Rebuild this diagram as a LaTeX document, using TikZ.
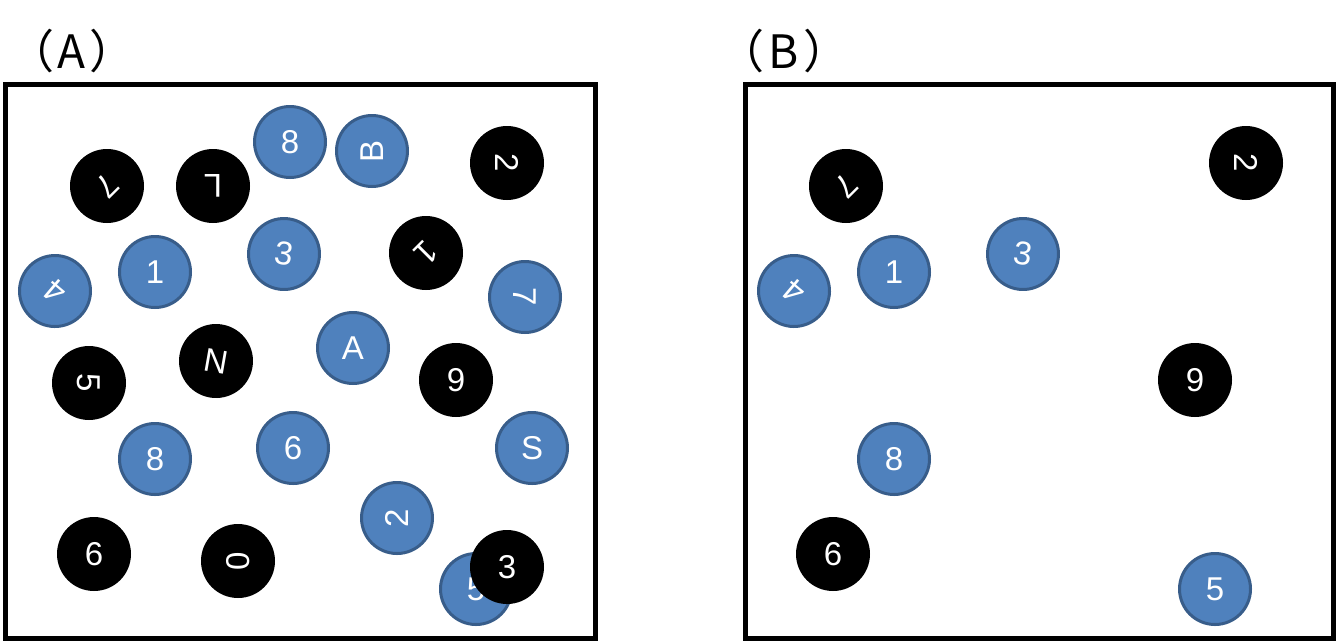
\documentclass[tikz,border=0pt]{standalone}
\usepackage{fontspec}
\setmainfont{Liberation Sans}
\newfontfamily\cjk{Noto Sans CJK JP}
\definecolor{ballblue}{HTML}{4F81BD}
\definecolor{balledge}{HTML}{385D8A}
\tikzset{
  ballbase/.style={circle, inner sep=0pt, text=white, font=\fontsize{33}{33}\selectfont},
  blueball/.style={ballbase, fill=ballblue, draw=balledge, line width=3pt, minimum size=71pt},
  blackball/.style={ballbase, fill=black, minimum size=74pt},
  framebox/.style={draw=black, line width=5pt},
  paneltitle/.style={anchor=base, font=\cjk\fontsize{46}{46}\selectfont, inner sep=0pt}
}
\begin{document}
\begin{tikzpicture}[x=1pt,y=-1pt]
\useasboundingbox (0,0) rectangle (1336,641);
% titles
\node[paneltitle] (tA) at (72,68) {（\hspace{4pt}A\hspace{4pt}）};
\node[paneltitle] (tB) at (784,68) {（\hspace{4pt}B\hspace{4pt}）};
% frames
\draw[framebox] (5,84.5) rectangle (595,638);
\draw[framebox] (745,84.5) rectangle (1333,638);
% panel A
\node[blackball, rotate=-135] (a1) at (107,186) {7};
\node[blackball, rotate=180] (a2) at (213,186) {L};
\node[blueball] (a3) at (290,142) {8};
\node[blueball, rotate=90] (a4) at (372,151) {B};
\node[blackball, rotate=-90] (a5) at (507,163) {2};
\node[blackball, rotate=-135] (a6) at (426,253) {1};
\node[blueball, rotate=-90] (a7) at (525,297) {7};
\node[blueball, rotate=-8] (a8) at (284,254) {3};
\node[blueball] (a9) at (155,272) {1};
\node[blueball, rotate=140] (a10) at (55,291) {4};
\node[blackball, rotate=-10] (a11) at (216,361) {N};
\node[blueball] (a12) at (353,348) {A};
\node[blackball, rotate=-90] (a13) at (89,383) {5};
\node[blackball] (a14) at (456,380) {9};
\node[blueball] (a15) at (155,459) {8};
\node[blueball] (a16) at (293,448) {6};
\node[blueball] (a17) at (532,448) {S};
\node[blueball, rotate=90] (a18) at (397,518) {2};
\node[blackball] (a19) at (94,554) {6};
\node[blackball, rotate=90] (a20) at (238,561) {0};
\node[blueball] (a21) at (476,589) {5};
\node[blackball] (a22) at (507,567) {3};
% panel B
\node[blackball, rotate=-135] (b1) at (846,186) {7};
\node[blackball, rotate=-90] (b2) at (1246,163) {2};
\node[blueball, rotate=-8] (b3) at (1023,254) {3};
\node[blueball] (b4) at (894,272) {1};
\node[blueball, rotate=140] (b5) at (794,291) {4};
\node[blackball] (b6) at (1195,380) {9};
\node[blueball] (b7) at (894,459) {8};
\node[blackball] (b8) at (833,554) {6};
\node[blueball] (b9) at (1215,589) {5};
\end{tikzpicture}
\end{document}
